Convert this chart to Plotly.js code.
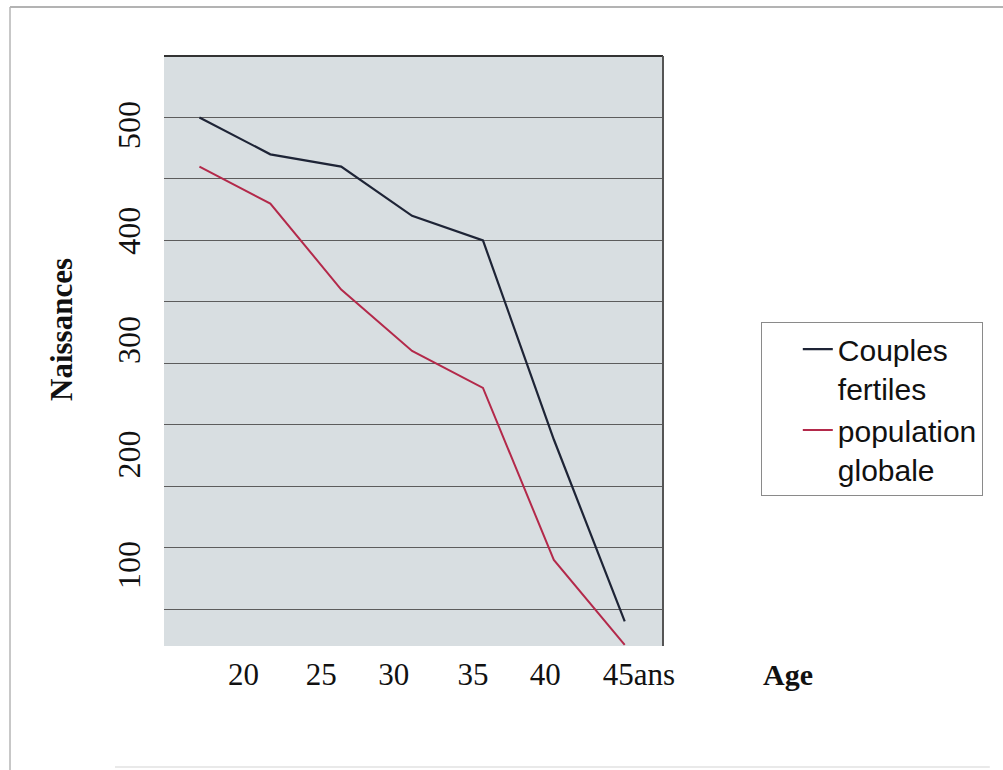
<!DOCTYPE html>
<html>
<head>
<meta charset="utf-8">
<script src="https://cdn.plot.ly/plotly-3.0.1.min.js"></script>
<style>
  html, body { margin: 0; padding: 0; background: #ffffff; }
  #chart { width: 1003px; height: 770px; }
</style>
</head>
<body>
<div id="chart"></div>
<script>
// Age groups (mid-point of five-year groups, in years)
var ageGroups = [17.5, 22.5, 27.5, 32.5, 37.5, 42.5, 47.5];
// Births per 1000
var couplesFertiles = [500, 470, 460, 420, 400, 238, 90];
var populationGlobale = [460, 430, 360, 310, 280, 140, 71];

// Tick labels as printed
var xTickText = ['20', '25', '30', '35', '40', '45ans'];
var xTickPos = [20.6, 26.1, 31.2, 36.8, 41.9, 48.5];
var yTickText = ['500', '400', '300', '200', '100'];
var yTickPos = [490, 404, 315, 222, 132];

var serif = 'Liberation Serif, Times New Roman, serif';
var sans = 'Liberation Sans, Arial, sans-serif';

var traces = [
  {
    x: ageGroups, y: couplesFertiles, type: 'scatter', mode: 'lines',
    name: 'Couples<br>fertiles',
    line: { color: '#1e2436', width: 2.2 },
    xaxis: 'x', yaxis: 'y'
  },
  {
    x: ageGroups, y: populationGlobale, type: 'scatter', mode: 'lines',
    name: 'population<br>globale',
    line: { color: '#b3294a', width: 2 },
    xaxis: 'x', yaxis: 'y'
  },
  {
    x: [], y: [], type: 'scatter', mode: 'lines', showlegend: false,
    hoverinfo: 'skip', xaxis: 'x2', yaxis: 'y2'
  }
];

var layout = {
  width: 1003, height: 770,
  margin: { l: 164, r: 340, t: 56, b: 124 },
  paper_bgcolor: '#ffffff',
  plot_bgcolor: '#d8dee1',
  showlegend: true,
  legend: {
    x: 1.196, y: 0.549, xanchor: 'left', yanchor: 'top',
    bgcolor: '#ffffff', bordercolor: '#8a8a8a', borderwidth: 1,
    font: { family: sans, size: 30, color: '#111111' },
    valign: 'top',
    indentation: 36
  },
  xaxis: {
    range: [15, 50.2], showgrid: false, zeroline: false,
    showticklabels: false, ticks: '', showline: false, fixedrange: true
  },
  yaxis: {
    range: [70, 550], dtick: 50, tick0: 0, showgrid: true,
    gridcolor: '#5c5c5c', gridwidth: 1, zeroline: false,
    showticklabels: false, ticks: '', showline: false, fixedrange: true
  },
  xaxis2: {
    overlaying: 'x', anchor: 'y2', side: 'bottom',
    range: [15, 50.2], showgrid: false, zeroline: false,
    tickmode: 'array', tickvals: xTickPos, ticktext: xTickText,
    ticks: '', ticklabelstandoff: 7,
    tickfont: { family: serif, size: 31, color: '#111111' },
    showline: false, fixedrange: true
  },
  yaxis2: {
    overlaying: 'y', anchor: 'x2', side: 'left',
    range: [70, 550], showgrid: false, zeroline: false,
    tickmode: 'array', tickvals: yTickPos, ticktext: yTickText,
    ticks: '', tickangle: -90, ticklabelstandoff: 17,
    tickfont: { family: serif, size: 32, color: '#111111' },
    showline: false, fixedrange: true
  },
  shapes: [
    // plot frame: top and right edges
    { type: 'line', xref: 'paper', yref: 'paper', x0: 0, x1: 1, y0: 1, y1: 1,
      line: { color: '#333333', width: 2 } },
    { type: 'line', xref: 'paper', yref: 'paper', x0: 1, x1: 1, y0: 0, y1: 1,
      line: { color: '#555555', width: 2 } },
    // outer figure frame
    { type: 'line', xref: 'paper', yref: 'paper', x0: -0.3086, x1: 1.6814, y0: 1.0831, y1: 1.0831,
      line: { color: '#9a9a9a', width: 1.5 } },
    { type: 'line', xref: 'paper', yref: 'paper', x0: -0.3086, x1: -0.3086, y0: 1.0831, y1: -0.2102,
      line: { color: '#b5b5b5', width: 1.5 } },
    { type: 'line', xref: 'paper', yref: 'paper', x0: -0.0982, x1: 1.655, y0: -0.2051, y1: -0.2051,
      line: { color: '#e2e2e2', width: 1.5 } }
  ],
  annotations: [
    { text: '<b>Naissances</b>', xref: 'paper', yref: 'paper', x: -0.204, y: 0.536,
      textangle: -90, showarrow: false, xanchor: 'center', yanchor: 'middle',
      font: { family: serif, size: 31, color: '#111111' } },
    { text: '<b>Age</b>', xref: 'paper', yref: 'paper', x: 1.2505, y: -0.0475,
      showarrow: false, xanchor: 'center', yanchor: 'middle',
      font: { family: serif, size: 30, color: '#111111' } }
  ]
};

Plotly.newPlot('chart', traces, layout, { displayModeBar: false, staticPlot: true });
</script>
</body>
</html>
